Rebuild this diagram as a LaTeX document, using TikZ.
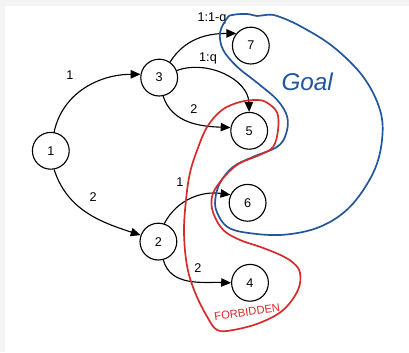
\documentclass[tikz,border=0pt]{standalone}
\usepackage{fontspec}
\setmainfont{Liberation Sans}
\usepackage{xcolor}
\usepackage{tikz}
\usetikzlibrary{arrows.meta,positioning,calc}
\definecolor{goalblue}{HTML}{22569A}
\definecolor{forbred}{HTML}{D62B2B}
\definecolor{framegray}{HTML}{F4F4F4}

\begin{document}
\begin{tikzpicture}[font=\small,
  state/.style={circle,draw,line width=0.8pt,minimum size=0.92cm,inner sep=0pt},
  trans/.style={line width=0.8pt,-{Triangle[length=7pt,width=6pt]}},
  lbl/.style={font=\small,inner sep=1pt},
  hand/.style={line width=1.2pt,line join=round}]
\fill[framegray] (0,0) rectangle (10.225,8.8);
\fill[white] (0.125,0) rectangle (10.225,8.65);
\useasboundingbox (0,0) rectangle (10.225,8.8);
% states
\node[state] (n1) at (1.27,5.03) {1};
\node[state] (n3) at (3.98,6.86) {3};
\node[state] (n2) at (3.96,2.76) {2};
\node[state] (n7) at (6.27,7.66) {7};
\node[state] (n5) at (6.23,5.53) {5};
\node[state] (n6) at (6.19,3.73) {6};
\node[state] (n4) at (6.25,1.73) {4};
% transitions
\draw[trans] (n1.80) to[out=78,in=180] (n3.170);
\draw[trans] (n1.-80) to[out=-72,in=162] (n2.160);
\draw[trans] (n3.55) to[out=58,in=180] (n7.140);
\draw[trans] (n3.22) to[out=20,in=92] (n5.north);
\draw[trans] (n3.-78) to[out=-72,in=178] (n5.170);
\draw[trans] (n2.72) to[out=62,in=172] (n6.155);
\draw[trans] (n2.-75) to[out=-75,in=178] (n4.west);
% labels
\node[lbl] (l13) at (1.75,6.93) {1};
\node[lbl] (l12) at (2.33,3.88) {2};
\node[lbl] (l37) at (5.30,8.33) {1:1-q};
\node[lbl] (l35a) at (5.20,7.33) {1:q};
\node[lbl] (l35b) at (4.85,6.08) {2};
\node[lbl] (l26) at (4.50,4.25) {1};
\node[lbl] (l24) at (4.95,2.10) {2};
% goal region
\draw[hand,goalblue] plot[smooth cycle,tension=0.6] coordinates {
  (5.68,8.35) (5.83,8.43) (6.18,8.45) (6.43,8.4) (6.68,8.43) (6.93,8.4)
  (7.5,8.15) (8.33,7.63) (9.08,6.88) (9.5,6.05) (9.55,5.3) (9.33,4.48)
  (8.75,3.63) (8.0,3.13) (7.08,2.93) (6.18,2.98) (5.68,3.13) (5.43,3.48)
  (5.38,3.8) (5.5,4.23) (5.83,4.63) (6.33,4.88) (6.93,5.13) (7.15,5.45)
  (7.18,5.88) (6.93,6.3) (6.43,6.73) (5.93,7.13) (5.58,7.55) (5.5,7.98)};
\node[goalblue,font=\LARGE\itshape] (goal) at (7.68,6.75) {Goal};
% forbidden region
\draw[hand,forbred] plot[smooth cycle,tension=0.6] coordinates {
  (4.93,5.05) (4.75,4.48) (4.65,3.8) (4.6,2.98) (4.68,2.13) (4.88,1.48)
  (5.18,0.88) (5.43,0.55) (5.83,0.55) (6.5,0.73) (7.08,1.05) (7.45,1.55)
  (7.5,1.98) (7.33,2.23) (7.0,2.43) (6.5,2.63) (6.0,2.8) (5.58,3.05)
  (5.33,3.48) (5.3,3.88) (5.5,4.25) (5.93,4.68) (6.5,4.93) (6.83,5.13)
  (6.95,5.55) (6.93,5.98) (6.68,6.23) (6.43,6.3) (6.0,6.25) (5.55,6.05)
  (5.18,5.63)};
\node[forbred,font=\footnotesize,rotate=8] (forb) at (6.18,1.0) {FORBIDDEN};
\end{tikzpicture}
\end{document}
